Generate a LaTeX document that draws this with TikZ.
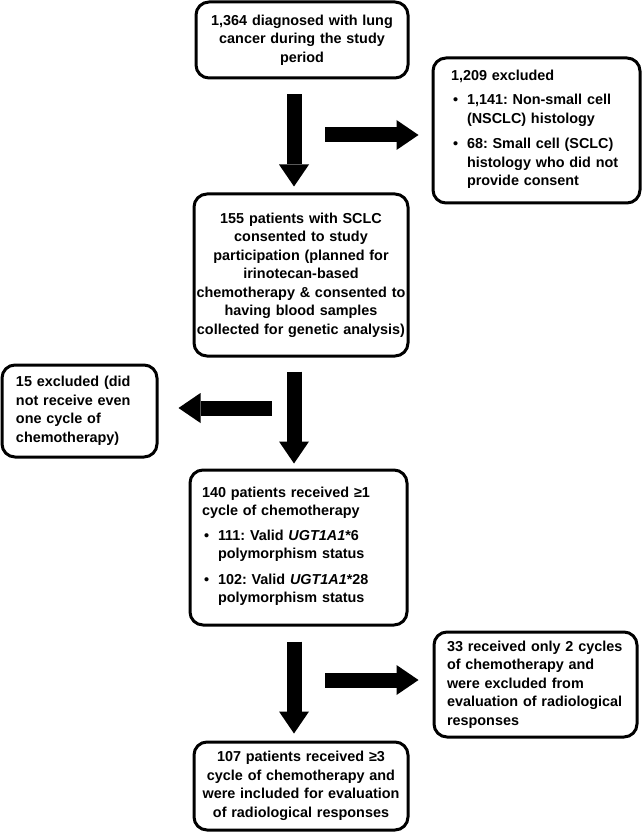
\documentclass[tikz,border=0pt]{standalone}
\usepackage{fontspec}
\setmainfont{Liberation Sans}
\usetikzlibrary{calc,arrows.meta}
\frenchspacing
\def\bul#1{\par\vspace{6pt}\noindent\makebox[16pt][l]{\hspace{2pt}\textbullet}\begin{tabular}[t]{@{}l@{}}#1\end{tabular}\par}

\begin{document}
\begin{tikzpicture}[x=1pt, y=-1pt,
		box/.style={draw, line width=3pt, rounded corners=13pt, inner sep=0pt, font=\fontsize{14.4}{18.5}\selectfont\bfseries},
		blockarrow/.style={line width=15pt, -{Triangle[width=30pt,length=22pt,line width=0pt]}}]
			%%%%% START %%%%%
			\useasboundingbox (0,0) rectangle (642,834);
			
			\node[box, minimum width=212pt, minimum height=76pt, text width=208pt, align=center] (diag) at (302,40)
				{1,364 diagnosed with lung\\cancer during the study\\period};
			\node[box, minimum width=207pt, minimum height=145pt, text width=171pt, align=left] (excl1) at (536.5,130.5)
				{1,209 excluded\bul{1,141: Non-small cell\\(NSCLC) histology}\bul{68: Small cell (SCLC)\\histology who did not\\provide consent}};
			\node[box, minimum width=214pt, minimum height=162pt, text width=212pt, align=center] (sclc) at (301,275)
				{155 patients with SCLC\\consented to study\\participation (planned for\\irinotecan-based\\chemotherapy \& consented to\\having blood samples\\collected for genetic analysis)};
			\node[box, minimum width=155pt, minimum height=92pt, text width=127pt, align=left] (excl2) at (79.5,411)
				{15 excluded (did\\not receive even\\one cycle of\\chemotherapy)};
			\node[box, minimum width=217pt, minimum height=155pt, text width=193pt, align=left] (chemo) at (298.5,547.5)
				{140 patients received ≥1\\cycle of chemotherapy\bul{111: Valid \textit{UGT1A1}*6\\polymorphism status}\bul{102: Valid \textit{UGT1A1}*28\\polymorphism status}};
			\node[box, minimum width=203pt, minimum height=105pt, text width=177pt, align=left] (excl3) at (535.5,684.5)
				{33 received only 2 cycles\\of chemotherapy and\\were excluded from\\evaluation of radiological\\responses};
			\node[box, minimum width=214pt, minimum height=88pt, text width=212pt, align=center] (eval) at (301,786)
				{107 patients received ≥3\\cycle of chemotherapy and\\were included for evaluation\\of radiological responses};
			
			\coordinate (s1) at (325,135);
			\coordinate (s2) at (272,408);
			\coordinate (s3) at (325,680);
			
			\draw[blockarrow] ($(diag.south)+(-8,15)$) -- ($(sclc.north)+(-7,-6)$);
			\draw[blockarrow] (s1) -- ($(excl1.west)+(-13,4.5)$);
			\draw[blockarrow] ($(sclc.south)+(-7,14)$) -- ($(chemo.north)+(-4.5,-5)$);
			\draw[blockarrow] (s2) -- ($(excl2.east)+(20,-3)$);
			\draw[blockarrow] ($(chemo.south)+(-4.5,15)$) -- ($(eval.north)+(-7,-7)$);
			\draw[blockarrow] (s3) -- ($(excl3.west)+(-14,-4.5)$);
			
			%%%%% END %%%%%
		\end{tikzpicture}
\end{document}
